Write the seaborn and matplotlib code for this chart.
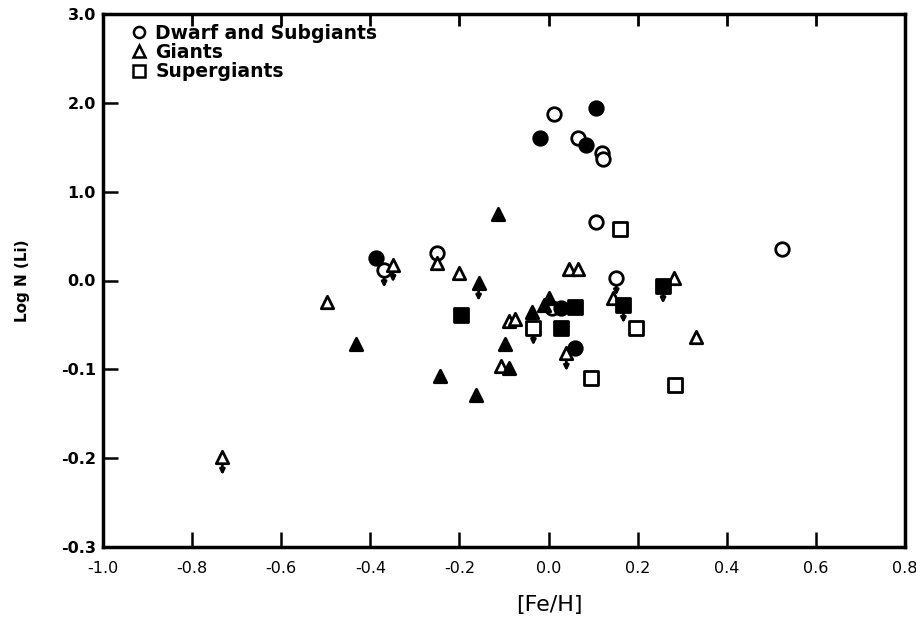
import numpy as np
import pandas as pd
import matplotlib
matplotlib.use("Agg")
import matplotlib.pyplot as plt
from matplotlib.lines import Line2D
import seaborn as sns

# values ([Fe/H], log N(Li)); lim = 1 marks an upper limit
dwarf_open_x = [0.013, 0.065, 0.121, 0.123, 0.107, 0.523, -0.25, -0.369, 0.152, 0.007]
dwarf_open_y = [1.87, 1.60, 1.44, 1.37, 0.66, 0.36, 0.31, 0.12, 0.03, -0.31]
dwarf_open_lim = [0, 0, 0, 0, 0, 0, 0, 1, 1, 0]

dwarf_fill_x = [0.107, -0.02, 0.083, -0.387, 0.027, 0.06]
dwarf_fill_y = [1.94, 1.60, 1.52, 0.25, -0.31, -0.76]
dwarf_fill_lim = [0, 0, 0, 0, 0, 0]

giant_open_x = [-0.732, -0.497, -0.349, -0.25, -0.2, -0.107, -0.089, -0.076,
                0.045, 0.065, 0.145, 0.04, 0.282, 0.331]
giant_open_y = [-1.99, -0.24, 0.18, 0.2, 0.08, -0.96, -0.46, -0.43,
                0.13, 0.13, -0.2, -0.82, 0.03, -0.64]
giant_open_lim = [1, 0, 1, 0, 0, 0, 0, 0, 0, 0, 0, 1, 0, 0]

giant_fill_x = [-0.432, -0.244, -0.163, -0.098, -0.089, -0.038, 0.002, -0.011, -0.157, -0.114]
giant_fill_y = [-0.71, -1.08, -1.29, -0.71, -0.99, -0.36, -0.2, -0.28, -0.03, 0.75]
giant_fill_lim = [0, 0, 0, 0, 0, 0, 0, 0, 1, 0]

super_open_x = [-0.034, 0.096, 0.161, 0.197, 0.284]
super_open_y = [-0.53, -1.1, 0.58, -0.54, -1.18]
super_open_lim = [1, 0, 0, 0, 0]

super_fill_x = [-0.197, 0.029, 0.06, 0.168, 0.257]
super_fill_y = [-0.39, -0.53, -0.3, -0.28, -0.06]
super_fill_lim = [0, 0, 0, 1, 1]

x_ticks = [-1.0, -0.8, -0.6, -0.4, -0.2, 0.0, 0.2, 0.4, 0.6, 0.8]
y_ticks = [3, 2, 1, 0, -1, -2, -3]
y_ticklabels = ["3.0", "2.0", "1.0", "0.0", "-0.1", "-0.2", "-0.3"]

groups = [
    ("o", False, dwarf_open_x, dwarf_open_y, dwarf_open_lim, 95),
    ("o", True, dwarf_fill_x, dwarf_fill_y, dwarf_fill_lim, 95),
    ("^", False, giant_open_x, giant_open_y, giant_open_lim, 80),
    ("^", True, giant_fill_x, giant_fill_y, giant_fill_lim, 80),
    ("s", False, super_open_x, super_open_y, super_open_lim, 100),
    ("s", True, super_fill_x, super_fill_y, super_fill_lim, 100),
]

sns.set_style("ticks")
plt.rcParams["font.family"] = ["DejaVu Sans"]
plt.rcParams["text.color"] = "black"
plt.rcParams["axes.labelcolor"] = "black"
plt.rcParams["xtick.color"] = "black"
plt.rcParams["ytick.color"] = "black"

fig = plt.figure(figsize=(9.16, 6.24), dpi=100)
ax = fig.add_axes([103 / 916, 77 / 624, 802 / 916, 533 / 624])

for marker, filled, xs, ys, lims, size in groups:
    df = pd.DataFrame({"feh": xs, "li": ys, "lim": lims})
    # upper-limit arrows, drawn under the symbol
    for _, r in df[df["lim"] == 1].iterrows():
        ax.annotate("", xy=(r["feh"], r["li"] - 0.2), xytext=(r["feh"], r["li"]),
                    arrowprops=dict(arrowstyle="-|>", color="black", lw=2,
                                    mutation_scale=7, shrinkA=0, shrinkB=0),
                    zorder=2)
    sns.scatterplot(data=df, x="feh", y="li", ax=ax, marker=marker, s=size,
                    facecolor="black" if filled else "white",
                    edgecolor="black", linewidth=2, zorder=3, legend=False)

ax.set_xlim(-1.0, 0.8)
ax.set_ylim(-3, 3)
ax.set_xticks(x_ticks)
ax.set_xticklabels([f"{v:.1f}" for v in x_ticks], fontsize=11.5)
ax.set_yticks(y_ticks)
ax.set_yticklabels(y_ticklabels, fontsize=11.5, fontweight="bold")
ax.tick_params(axis="both", direction="in", length=11, width=1.8, color="black")
ax.tick_params(axis="x", pad=10)
ax.tick_params(axis="y", pad=5)

# short ticks hanging from the top frame
ax.vlines(x_ticks[1:-1], 2.87, 3.0, colors="black", linewidth=2,
          clip_on=False, zorder=5)

for sp in ax.spines.values():
    sp.set_linewidth(2.5)
    sp.set_color("black")

ax.set_xlabel("")
ax.set_ylabel("Log N (Li)", fontsize=11, fontweight="bold", labelpad=22)
fig.text(549 / 916, 1 - 605 / 624, "[Fe/H]", fontsize=16, ha="center", va="center")

handles = [
    Line2D([], [], marker="o", ls="", mfc="white", mec="black", mew=1.8, ms=8),
    Line2D([], [], marker="^", ls="", mfc="white", mec="black", mew=1.8, ms=8),
    Line2D([], [], marker="s", ls="", mfc="white", mec="black", mew=1.8, ms=8),
]
ax.legend(handles, ["Dwarf and Subgiants", "Giants", "Supergiants"],
          loc="upper left", bbox_to_anchor=(0.035, 0.982), frameon=False,
          prop={"size": 13.5, "weight": "semibold"}, labelcolor="black",
          handlelength=0.8, handletextpad=0.5, labelspacing=0.02,
          borderaxespad=0, borderpad=0)

fig.savefig("out.png", dpi=100)
